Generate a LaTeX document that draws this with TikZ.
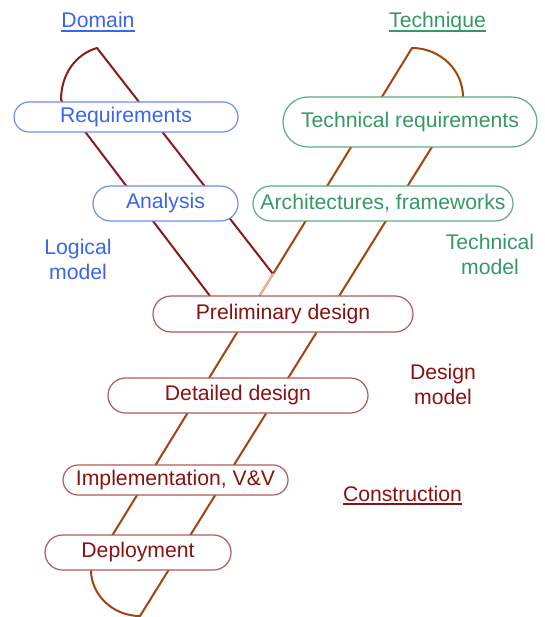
\documentclass[tikz,border=0pt]{standalone}
\usepackage{fontspec}
\setmainfont{Liberation Sans}
\usetikzlibrary{shapes.misc}
\definecolor{bluetxt}{HTML}{3A66EA}
\definecolor{blueln}{HTML}{6A90F2}
\definecolor{greentxt}{HTML}{379865}
\definecolor{greenln}{HTML}{5AAE82}
\definecolor{redtxt}{HTML}{871212}
\definecolor{redln}{HTML}{B05A5A}
\definecolor{branchred}{HTML}{8B1A1A}
\definecolor{branchbrown}{HTML}{A0450F}
\definecolor{faintbrown}{HTML}{E6B896}
\begin{document}
\begin{tikzpicture}[x=1pt,y=-1pt,
  pill/.style={rounded rectangle, draw, fill=white, inner sep=0pt, line width=1.2pt,
    font=\fontsize{21.2}{24}\selectfont},
  bluepill/.style={pill, draw=blueln, text=bluetxt},
  greenpill/.style={pill, draw=greenln, text=greentxt},
  redpill/.style={pill, draw=redln, text=redtxt},
  lbl/.style={inner sep=0pt, align=center, font=\fontsize{21.2}{24.5}\selectfont},
  uline/.style={line width=1.3pt},
  band/.style={line width=2pt, line cap=round},
]
\useasboundingbox (0,0) rectangle (544,617);

% branch geometry
\coordinate (ltop) at (97,48);
\coordinate (larc) at (61,100);
\coordinate (lend) at (210,296);
\coordinate (junc) at (273,274);
\coordinate (rtop) at (412,48);
\coordinate (rarc) at (463,97);
\coordinate (pdtop) at (259.5,296);
\coordinate (bleft) at (91,570);
\coordinate (btip) at (140,616);

% left (domain) branch
\draw[band, branchred] (ltop) -- (junc);
\draw[band, branchred] (larc) -- (lend);
\draw[band, branchred] (ltop) .. controls (76,54) and (61,74) .. (larc);

% right (technique) branch and construction band
\draw[band, branchbrown] (rtop) -- (bleft);
\draw[band, branchbrown] (rarc) -- (btip);
\draw[band, branchbrown] (rtop) .. controls (440,48) and (463,70) .. (rarc);
\draw[band, branchbrown] (bleft) .. controls (91,595) and (113,616) .. (btip);
\draw[band, faintbrown] (junc) -- (pdtop);

% process nodes
\node[bluepill, minimum width=224pt, minimum height=30pt] (req) at (126,117) {Requirements};
\node[bluepill, minimum width=145pt, minimum height=35pt] (ana) at (165.5,203.5) {Analysis};
\node[greenpill, minimum width=254pt, minimum height=50pt] (treq) at (410,122) {Technical requirements};
\node[greenpill, minimum width=260pt, minimum height=35pt] (arch) at (383,203.5) {Architectures, frameworks};
\node[redpill, minimum width=260pt, minimum height=36pt] (pre) at (283,314) {Preliminary design};
\node[redpill, minimum width=260pt, minimum height=35pt] (det) at (238,395.5) {Detailed design};
\node[redpill, minimum width=225pt, minimum height=30pt] (impl) at (175.5,480) {Implementation, V\&V};
\node[redpill, minimum width=186pt, minimum height=35pt] (dep) at (138,552.5) {Deployment};

% labels
\node[lbl, text=bluetxt, anchor=base] (dom) at (98,28) {Domain};
\draw[uline, bluetxt] ([yshift=-3pt]dom.base west) -- ([yshift=-3pt]dom.base east);
\node[lbl, text=greentxt, anchor=base] (tech) at (437.5,28) {Technique};
\draw[uline, greentxt] ([yshift=-3pt]tech.base west) -- ([yshift=-3pt]tech.base east);
\node[lbl, text=redtxt, anchor=base] (cons) at (402.5,501) {Construction};
\draw[uline, redtxt] ([yshift=-3pt]cons.base west) -- ([yshift=-3pt]cons.base east);

\node[lbl, text=bluetxt] (logm) at (78,259.5) {Logical\\model};
\node[lbl, text=greentxt] (techm) at (490,254.5) {Technical\\model};
\node[lbl, text=redtxt] (desm) at (443,384.5) {Design\\model};
\end{tikzpicture}
\end{document}
